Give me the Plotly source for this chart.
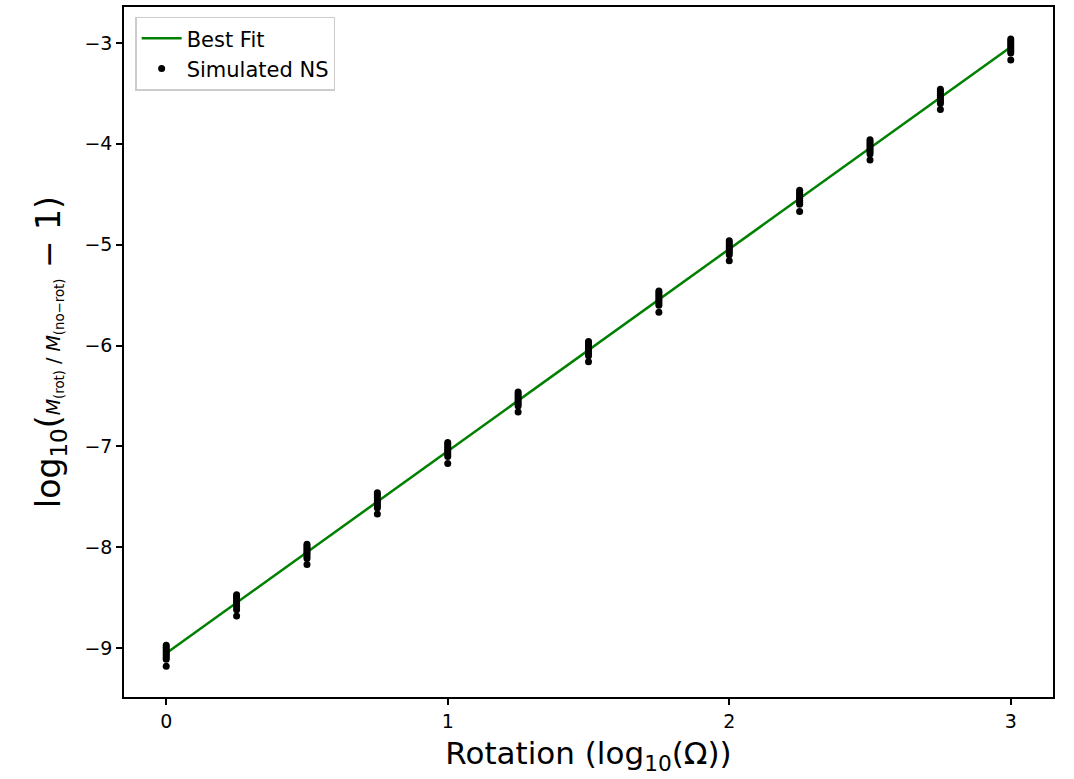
import plotly.graph_objects as go

# rotation values (log10 Omega)
rot = [0.0, 0.25, 0.5, 0.75, 1.0, 1.25, 1.5, 1.75, 2.0, 2.25, 2.5, 2.75, 3.0]

# simulated NS values per rotation
ns_vals = [
    [-8.97, -8.99, -9.01, -9.03, -9.05, -9.07, -9.09, -9.11, -9.18],
    [-8.47, -8.49, -8.51, -8.53, -8.55, -8.57, -8.59, -8.62, -8.68],
    [-7.97, -7.99, -8.01, -8.03, -8.05, -8.07, -8.09, -8.11, -8.17],
    [-7.46, -7.48, -7.50, -7.53, -7.55, -7.57, -7.59, -7.61, -7.67],
    [-6.96, -6.98, -7.00, -7.02, -7.04, -7.06, -7.08, -7.10, -7.17],
    [-6.46, -6.48, -6.50, -6.52, -6.54, -6.56, -6.58, -6.60, -6.66],
    [-5.96, -5.98, -6.00, -6.02, -6.04, -6.06, -6.08, -6.10, -6.16],
    [-5.46, -5.48, -5.50, -5.52, -5.54, -5.56, -5.58, -5.60, -5.67],
    [-4.96, -4.98, -5.00, -5.02, -5.04, -5.06, -5.08, -5.10, -5.16],
    [-4.46, -4.48, -4.50, -4.52, -4.54, -4.56, -4.58, -4.60, -4.67],
    [-3.96, -3.98, -4.00, -4.02, -4.04, -4.06, -4.08, -4.10, -4.16],
    [-3.46, -3.48, -3.50, -3.52, -3.54, -3.56, -3.58, -3.60, -3.66],
    [-2.96, -2.98, -3.00, -3.02, -3.04, -3.06, -3.08, -3.10, -3.17],
]

fit_x = [0.0, 3.0]
fit_y = [-9.05, -3.04]

xs = []
ys = []
for r, vals in zip(rot, ns_vals):
    for v in vals:
        xs.append(r)
        ys.append(v)

fig = go.Figure()

fig.add_trace(go.Scatter(
    x=fit_x, y=fit_y,
    mode="lines",
    line=dict(color="green", width=2.5),
    name="Best Fit",
))

fig.add_trace(go.Scatter(
    x=xs, y=ys,
    mode="markers",
    marker=dict(color="black", size=7),
    name="Simulated NS",
))

axis_common = dict(
    showline=True, linecolor="black", linewidth=1.5, mirror=True,
    ticks="outside", ticklen=6, tickwidth=1.5, tickcolor="black",
    showgrid=False, zeroline=False,
    tickfont=dict(size=19, color="black"),
)

fig.update_xaxes(
    range=[-0.15, 3.15],
    tickvals=[0, 1, 2, 3],
    title=dict(text="Rotation (log<sub>10</sub>(Ω))", font=dict(size=31, color="black"), standoff=12),
    **axis_common,
)

ytitle = ("log<sub>10</sub>(<span style='font-size:19px'><i>M</i><sub>(rot)</sub>"
          " / <i>M</i><sub>(no−rot)</sub></span> − 1)")
fig.update_yaxes(
    range=[-9.484, -2.644],
    tickvals=[-9, -8, -7, -6, -5, -4, -3],
    title=dict(text=ytitle, font=dict(size=33, color="black"), standoff=14),
    **axis_common,
)

fig.update_layout(
    width=1074, height=779,
    margin=dict(l=124, r=21, t=5, b=82),
    plot_bgcolor="white",
    paper_bgcolor="white",
    font=dict(family="DejaVu Sans", color="black"),
    legend=dict(
        x=0.012, y=0.986, xanchor="left", yanchor="top",
        bgcolor="rgba(255,255,255,0.8)",
        bordercolor="#cccccc", borderwidth=1.5,
        font=dict(size=21, color="black"),
        itemwidth=40,
    ),
)

fig.write_html("out.html", config={"displayModeBar": False},
               post_script="document.body.style.margin='0';")
